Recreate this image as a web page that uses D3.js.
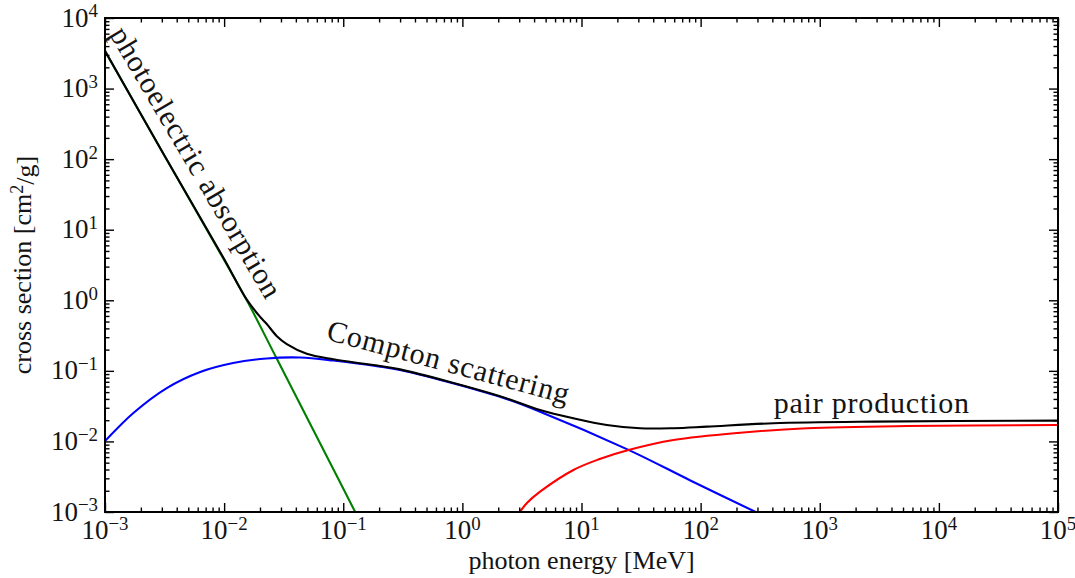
<!DOCTYPE html>
<html>
<head>
<meta charset="utf-8">
<script src="https://cdn.jsdelivr.net/npm/d3@7"></script>
<style>
  body { margin: 0; background: #fff; }
</style>
</head>
<body>
<svg id="chart" width="1075" height="578"></svg>
<script>
// Photon energy in MeV, mass attenuation cross sections in cm^2/g
const photoEnergy = [0.001, 0.00316, 0.01, 0.0155, 0.0277, 0.0631, 0.126];
const photoSigma  = [3390, 112, 3.72, 1.0, 0.148, 0.0098, 0.001];

const comptonEnergy = [0.001, 0.00173, 0.0033, 0.0063, 0.0119, 0.0228, 0.0434, 0.0826, 0.204, 0.3, 2.07, 4.49, 24.8, 82, 290];
const comptonSigma  = [0.0101, 0.0253, 0.0571, 0.0964, 0.129, 0.150, 0.1545, 0.140, 0.1146, 0.103, 0.043, 0.0264, 0.0076, 0.0028, 0.001];

const pairEnergy = [3.03, 3.5, 4.49, 8.55, 14, 24.8, 59.2, 215, 780, 5380, 1e5];
const pairSigma  = [0.001, 0.00135, 0.00194, 0.00394, 0.00558, 0.00755, 0.01047, 0.0133, 0.01535, 0.01652, 0.0171];

const totalEnergy = [0.001, 0.00316, 0.01, 0.0155, 0.02, 0.0228, 0.0277, 0.0336, 0.0494, 0.0826, 0.138, 0.204, 0.3, 2.07, 4.49, 8.55, 16.3, 31, 59, 113, 409, 2825, 1e5];
const totalSigma  = [3420, 112, 3.85, 1.02, 0.585, 0.462, 0.31, 0.24, 0.175, 0.146, 0.128, 0.117, 0.105, 0.0437, 0.0279, 0.0213, 0.0171, 0.01535, 0.0154, 0.0162, 0.0181, 0.0191, 0.0197];

// Tick labels are powers of ten
const xTickExponents = [-3, -2, -1, 0, 1, 2, 3, 4, 5];
const yTickExponents = [-3, -2, -1, 0, 1, 2, 3, 4];

const seriesList = [
  { name: 'photoelectric', energy: photoEnergy, sigma: photoSigma, color: '#008000' },
  { name: 'compton', energy: comptonEnergy, sigma: comptonSigma, color: '#0000ff' },
  { name: 'pair', energy: pairEnergy, sigma: pairSigma, color: '#ff0000' },
  { name: 'total', energy: totalEnergy, sigma: totalSigma, color: '#000000' }
];

const FONT = "'Liberation Serif', 'Times New Roman', Times, serif";
const INK = '#141414';

const plot = { left: 105, right: 1058, top: 18, bottom: 512 };
const svg = d3.select('#chart');

const x = d3.scaleLog().domain([1e-3, 1e5]).range([plot.left, plot.right]);
const y = d3.scaleLog().domain([1e-3, 1e4]).range([plot.bottom, plot.top]);

const minorValues = (lo, hi) => {
  const out = [];
  for (let k = lo; k < hi; k++) for (let m = 2; m <= 9; m++) out.push(m * Math.pow(10, k));
  return out;
};
const xMajor = xTickExponents.map(e => Math.pow(10, e));
const yMajor = yTickExponents.map(e => Math.pow(10, e));
const xMinor = minorValues(-3, 5);
const yMinor = minorValues(-3, 4);

svg.append('defs').append('clipPath').attr('id', 'plot-clip')
  .append('rect')
  .attr('x', plot.left).attr('y', plot.top)
  .attr('width', plot.right - plot.left).attr('height', plot.bottom - plot.top);

// Curves
const line = d3.line()
  .x(d => x(d[0]))
  .y(d => y(d[1]))
  .curve(d3.curveCatmullRom.alpha(0.5));

const curves = svg.append('g').attr('clip-path', 'url(#plot-clip)');
seriesList.forEach(s => {
  curves.append('path')
    .datum(s.energy.map((e, i) => [e, s.sigma[i]]))
    .attr('fill', 'none')
    .attr('stroke', s.color)
    .attr('stroke-width', 2.1)
    .attr('stroke-linejoin', 'round')
    .attr('d', line);
});

// Inward ticks on all four sides
function tickAxis(axisFn, scale, values, size, transform) {
  const g = svg.append('g').attr('transform', transform)
    .call(axisFn(scale).tickValues(values).tickSizeInner(-size).tickSizeOuter(0).tickFormat(() => ''));
  g.select('.domain').remove();
  g.selectAll('.tick line').attr('stroke', '#000').attr('stroke-width', 1.4);
}
tickAxis(d3.axisBottom, x, xMajor, 9, `translate(0,${plot.bottom})`);
tickAxis(d3.axisBottom, x, xMinor, 4.5, `translate(0,${plot.bottom})`);
tickAxis(d3.axisTop, x, xMajor, 9, `translate(0,${plot.top})`);
tickAxis(d3.axisTop, x, xMinor, 4.5, `translate(0,${plot.top})`);
tickAxis(d3.axisLeft, y, yMajor, 9, `translate(${plot.left},0)`);
tickAxis(d3.axisLeft, y, yMinor, 4.5, `translate(${plot.left},0)`);
tickAxis(d3.axisRight, y, yMajor, 9, `translate(${plot.right},0)`);
tickAxis(d3.axisRight, y, yMinor, 4.5, `translate(${plot.right},0)`);

// Frame
svg.append('rect')
  .attr('x', plot.left).attr('y', plot.top)
  .attr('width', plot.right - plot.left).attr('height', plot.bottom - plot.top)
  .attr('fill', 'none').attr('stroke', '#000').attr('stroke-width', 2);

// Power-of-ten tick labels
function powerLabel(sel, exp) {
  sel.append('tspan').text('10');
  sel.append('tspan')
    .attr('dy', '-0.48em')
    .attr('font-size', '0.7em')
    .text(String(exp).replace('-', '\u2212'));
}
const tickFont = 27;
xTickExponents.forEach(e => {
  svg.append('text')
    .attr('x', x(Math.pow(10, e)))
    .attr('y', 539)
    .attr('text-anchor', 'middle')
    .attr('font-family', FONT).attr('fill', INK)
    .attr('font-size', tickFont)
    .call(powerLabel, e);
});
yTickExponents.forEach(e => {
  svg.append('text')
    .attr('x', 98)
    .attr('y', y(Math.pow(10, e)) + 8.5)
    .attr('text-anchor', 'end')
    .attr('font-family', FONT).attr('fill', INK)
    .attr('font-size', tickFont)
    .call(powerLabel, e);
});

// Axis titles
svg.append('text')
  .attr('x', (plot.left + plot.right) / 2)
  .attr('y', 569)
  .attr('text-anchor', 'middle')
  .attr('font-family', FONT).attr('fill', INK)
  .attr('font-size', 26)
  .text('photon energy [MeV]');

const yTitle = svg.append('text')
  .attr('transform', `translate(31,${(plot.top + plot.bottom) / 2}) rotate(-90)`)
  .attr('text-anchor', 'middle')
  .attr('font-family', FONT).attr('fill', INK)
  .attr('font-size', 26);
yTitle.append('tspan').text('cross section [cm');
yTitle.append('tspan').attr('dy', '-0.42em').attr('font-size', '0.7em').text('2');
yTitle.append('tspan').attr('dy', '0.42em').attr('font-size', '1em').text('/g]');

// Curve annotations
const notes = [
  { text: 'photoelectric absorption', cx: 193.3, cy: 164.2, angle: 59.5 },
  { text: 'Compton scattering', cx: 447.8, cy: 365.3, angle: 15 },
  { text: 'pair production', cx: 871.7, cy: 406.5, angle: 0 }
];
notes.forEach(n => {
  svg.append('text')
    .attr('transform', `translate(${n.cx},${n.cy}) rotate(${n.angle})`)
    .attr('text-anchor', 'middle')
    .attr('dy', '0.22em')
    .attr('font-family', FONT).attr('fill', INK)
    .attr('font-size', 30)
    .attr('letter-spacing', '0.8px')
    .text(n.text);
});
</script>
</body>
</html>
